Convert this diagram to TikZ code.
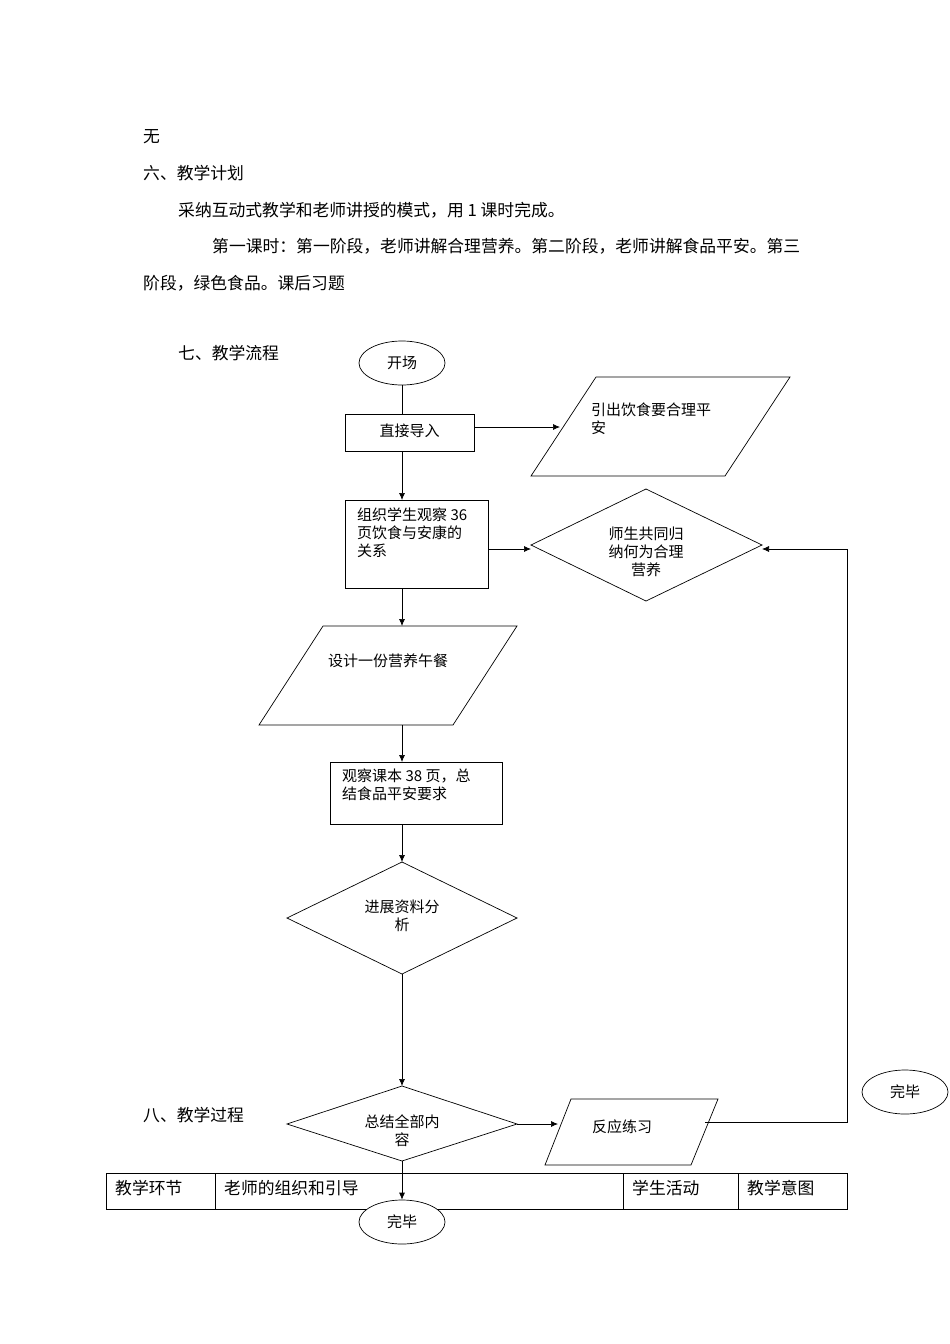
\documentclass[tikz,border=0pt]{standalone}
\usepackage{fontspec}
\setmainfont{Noto Sans CJK SC}
\usetikzlibrary{shapes.geometric,arrows.meta}
\begin{document}
\begin{tikzpicture}[x=1pt,y=-1pt,
  body/.style={anchor=west,font=\fontsize{16.8}{20}\selectfont,inner sep=0},
  fc/.style={font=\fontsize{15}{18}\selectfont,align=center,inner sep=0},
  ln/.style={line width=0.7pt},
  ar/.style={ln,-{Latex[length=7pt,width=6pt]}}]
\useasboundingbox (0,0) rectangle (950,1344);
\node[body] (t1) at (143,137) {无};
\node[body] (t2) at (143,173) {六、教学计划};
\node[body] (t3) at (178,210) {采纳互动式教学和老师讲授的模式，用 1 课时完成。};
\node[body] (t4) at (212,246) {第一课时：第一阶段，老师讲解合理营养。第二阶段，老师讲解食品平安。第三};
\node[body] (t5) at (143,283) {阶段，绿色食品。课后习题};
\node[body] (t6) at (178,353) {七、教学流程};
\node[body] (t7) at (143,1115) {八、教学过程};
% table
\draw[ln] (106,1173) rectangle (847,1209);
\foreach \x in {215,623,738} \draw[ln] (\x,1173) -- (\x,1209);
\node[body] (c1) at (115,1188) {教学环节};
\node[body] (c2) at (224,1188) {老师的组织和引导};
\node[body] (c3) at (632,1188) {学生活动};
\node[body] (c4) at (747,1188) {教学意图};
% flow
\node[draw,ln,ellipse,minimum width=86,minimum height=44,fc,fill=white] (start) at (402,363) {开场};
\node[draw,ln,minimum width=129,minimum height=37] (b1) at (409.5,432.5) {};
\node[fc] (b1t) at (409.5,431) {直接导入};
\draw[ln] (596,377) -- (790,377) -- (725,476) -- (531,476) -- cycle;
\coordinate (p1) at (560,427);
\node[fc,anchor=north west,align=left] (p1t) at (591,403) {引出饮食要合理平\\安};
\node[draw,ln,minimum width=143,minimum height=88] (b2) at (416.5,544) {};
\node[fc,anchor=north west,align=left] (b2t) at (357,508) {组织学生观察 36\\页饮食与安康的\\关系};
\draw[ln] (646,489) -- (762,545) -- (646,601) -- (531,545) -- cycle;
\coordinate (dL) at (531,549); \coordinate (dR) at (762,549);
\node[fc] (dt) at (646,552) {师生共同归\\纳何为合理\\营养};
\draw[ln] (323,626) -- (517,626) -- (453,725) -- (259,725) -- cycle;
\coordinate (p2T) at (402,626); \coordinate (p2B) at (402,725);
\node[fc] (p2t) at (388,661) {设计一份营养午餐};
\node[draw,ln,minimum width=172,minimum height=62] (b3) at (416,793) {};
\node[fc,anchor=north west,align=left] (b3t) at (342,769) {观察课本 38 页，总\\结食品平安要求};
\draw[ln] (402,862) -- (517,918) -- (402,974) -- (287,918) -- cycle;
\coordinate (d2T) at (402,862); \coordinate (d2B) at (402,974);
\node[fc] (d2t) at (402,916) {进展资料分\\析};
\draw[ln,fill=white] (402,1086) -- (517,1124) -- (402,1161) -- (287,1124) -- cycle;
\coordinate (d3T) at (402,1086); \coordinate (d3B) at (402,1161); \coordinate (d3R) at (517,1124);
\node[fc] (d3t) at (402,1131) {总结全部内\\容};
\draw[ln] (571,1099) -- (718,1099) -- (691,1165) -- (545,1165) -- cycle;
\coordinate (p3L) at (558,1124); \coordinate (p3R) at (705,1122);
\node[fc] (p3t) at (622,1127) {反应练习};
\node[draw,ln,ellipse,minimum width=86,minimum height=44,fc] (end1) at (905,1092) {完毕};
\node[draw,ln,ellipse,minimum width=86,minimum height=44,fc,fill=white] (end2) at (402,1222) {完毕};
\coordinate (cr) at (847,1122); \coordinate (cr2) at (847,549);
\coordinate (b1N) at (402,414); \coordinate (b1S) at (402,451);
\coordinate (b1E) at (474,427);
\coordinate (b2N) at (402,500); \coordinate (b2S) at (402,588); \coordinate (b2E) at (488,549);
\coordinate (b3N) at (402,762); \coordinate (b3S) at (402,824);
% connectors
\draw[ln] (start) -- (b1N);
\draw[ar] (b1E) -- (p1);
\draw[ar] (b1S) -- (b2N);
\draw[ar] (b2E) -- (dL);
\draw[ar] (b2S) -- (p2T);
\draw[ar] (p2B) -- (b3N);
\draw[ar] (b3S) -- (d2T);
\draw[ar] (d2B) -- (d3T);
\draw[ar] (d3R) -- (p3L);
\draw[ln] (p3R) -- (cr) -- (cr2);
\draw[ar] (cr2) -- (dR);
\draw[ar] (d3B) -- (end2);
\end{tikzpicture}
\end{document}
